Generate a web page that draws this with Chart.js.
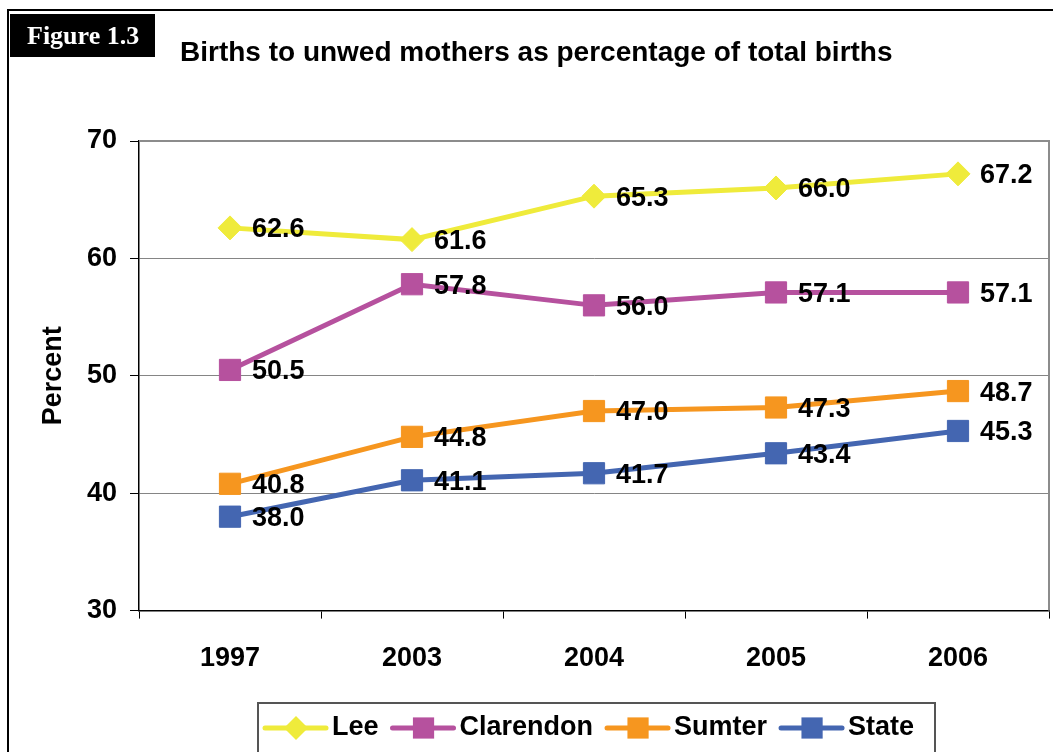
<!DOCTYPE html>
<html>
<head>
<meta charset="utf-8">
<script src="https://cdn.jsdelivr.net/npm/chart.js@4"></script>
<style>
  html, body { margin: 0; padding: 0; background: #fff; overflow: hidden; }
  #wrap { width: 1054px; height: 752px; position: relative; }
  canvas { display: block; }
</style>
</head>
<body>
<div id="wrap"><canvas id="birthsChart"></canvas></div>
<script>
// values
const years = ['1997', '2003', '2004', '2005', '2006'];
const lee = [62.6, 61.6, 65.3, 66.0, 67.2];
const clarendon = [50.5, 57.8, 56.0, 57.1, 57.1];
const sumter = [40.8, 44.8, 47.0, 47.3, 48.7];
const state = [38.0, 41.1, 41.7, 43.4, 45.3];
const yTicks = [30, 40, 50, 60, 70];

const FONT = "Arial, 'Liberation Sans', sans-serif";
const colors = { lee: '#EFEB3B', clarendon: '#B6519E', sumter: '#F6961F', state: '#4466B1' };

function series(label, data, color, style, radius) {
    return {
        label: label,
        data: data,
        borderColor: color,
        backgroundColor: color,
        borderWidth: 5,
        pointStyle: style,
        pointRadius: radius,
        pointHoverRadius: radius,
        pointBorderWidth: 1,
        pointBorderColor: color,
        pointBackgroundColor: color,
        tension: 0
    };
}

// frame, figure tag, title, plot border, point labels and legend
const decorPlugin = {
    id: 'decor',
    beforeDraw(chart) {
        const ctx = chart.ctx;
        ctx.save();
        ctx.strokeStyle = '#000';
        ctx.lineWidth = 2;
        ctx.beginPath();
        ctx.moveTo(8, 752);
        ctx.lineTo(8, 10);
        ctx.lineTo(1053, 10);
        ctx.stroke();

        ctx.fillStyle = '#000';
        ctx.fillRect(10, 14, 145, 43);
        ctx.fillStyle = '#fff';
        ctx.font = "bold 26px 'Liberation Serif', 'Times New Roman', serif";
        ctx.textBaseline = 'middle';
        ctx.textAlign = 'left';
        ctx.fillText('Figure 1.3', 27, 37);

        ctx.fillStyle = '#000';
        ctx.font = 'bold 28px ' + FONT;
        ctx.fillText('Births to unwed mothers as percentage of total births', 180, 53);
        ctx.restore();
    },
    afterDatasetsDraw(chart) {
        const ctx = chart.ctx;
        const area = chart.chartArea;
        ctx.save();
        ctx.strokeStyle = '#8c8c8c';
        ctx.lineWidth = 2;
        ctx.beginPath();
        ctx.moveTo(area.left, area.top);
        ctx.lineTo(area.right, area.top);
        ctx.lineTo(area.right, area.bottom);
        ctx.stroke();

        ctx.fillStyle = '#000';
        ctx.font = 'bold 27px ' + FONT;
        ctx.textBaseline = 'middle';
        ctx.textAlign = 'left';
        chart.data.datasets.forEach((ds, i) => {
            chart.getDatasetMeta(i).data.forEach((pt, j) => {
                ctx.fillText(ds.data[j].toFixed(1), pt.x + 22, pt.y + 2);
            });
        });
        ctx.restore();
    },
    afterDraw(chart) {
        const ctx = chart.ctx;
        ctx.save();
        ctx.strokeStyle = '#555';
        ctx.lineWidth = 2;
        ctx.strokeRect(258, 703, 677, 52);

        let x = 265;
        const y = 728;
        ctx.font = 'bold 27px ' + FONT;
        ctx.textBaseline = 'middle';
        ctx.textAlign = 'left';
        chart.data.datasets.forEach(ds => {
            ctx.strokeStyle = ds.borderColor;
            ctx.lineWidth = 5;
            ctx.lineCap = 'round';
            ctx.beginPath();
            ctx.moveTo(x, y);
            ctx.lineTo(x + 61, y);
            ctx.stroke();
            ctx.fillStyle = ds.borderColor;
            ctx.strokeStyle = ds.borderColor;
            ctx.lineWidth = 1;
            ctx.beginPath();
            if (ds.pointStyle === 'rectRot') {
                const r = ds.pointRadius;
                ctx.moveTo(x + 31 - r, y);
                ctx.lineTo(x + 31, y - r);
                ctx.lineTo(x + 31 + r, y);
                ctx.lineTo(x + 31, y + r);
            } else {
                const s = ds.pointRadius * Math.SQRT1_2;
                ctx.rect(x + 31 - s, y - s, 2 * s, 2 * s);
            }
            ctx.closePath();
            ctx.fill();
            ctx.fillStyle = '#000';
            ctx.fillText(ds.label, x + 67, y);
            x += 67 + ctx.measureText(ds.label).width + 14;
        });
        ctx.restore();
    }
};

const ctx = document.getElementById('birthsChart').getContext('2d');
new Chart(ctx, {
    type: 'line',
    data: {
        labels: years,
        datasets: [
            series('Lee', lee, colors.lee, 'rectRot', 12),
            series('Clarendon', clarendon, colors.clarendon, 'rect', 15),
            series('Sumter', sumter, colors.sumter, 'rect', 15),
            series('State', state, colors.state, 'rect', 15)
        ]
    },
    options: {
        responsive: true,
        maintainAspectRatio: false,
        animation: false,
        layout: { autoPadding: false, padding: { left: 30, right: 5, top: 141, bottom: 53 } },
        plugins: {
            legend: { display: false },
            tooltip: { enabled: false }
        },
        scales: {
            x: {
                type: 'category',
                offset: true,
                afterFit(scale) { scale.paddingLeft = 0; scale.paddingRight = 0; },
                grid: { offset: true, drawOnChartArea: false, tickLength: 8, color: '#000' },
                border: { color: '#000', width: 1.5 },
                ticks: { color: '#000', padding: 24, font: { family: FONT, size: 27, weight: 'bold' } }
            },
            y: {
                min: yTicks[0],
                max: yTicks[yTicks.length - 1],
                afterBuildTicks(scale) { scale.ticks = yTicks.map(v => ({ value: v })); },
                afterFit(scale) { scale.width = 109; },
                grid: { color: '#858585', lineWidth: 1, tickLength: 9, tickColor: '#000' },
                border: { color: '#000', width: 1.5 },
                ticks: { color: '#000', padding: 13, font: { family: FONT, size: 27, weight: 'bold' } },
                title: {
                    display: true,
                    text: 'Percent',
                    color: '#000',
                    padding: { top: 7, bottom: 0 },
                    font: { family: FONT, size: 27, weight: 'bold' }
                }
            }
        }
    },
    plugins: [decorPlugin]
});
</script>
</body>
</html>
